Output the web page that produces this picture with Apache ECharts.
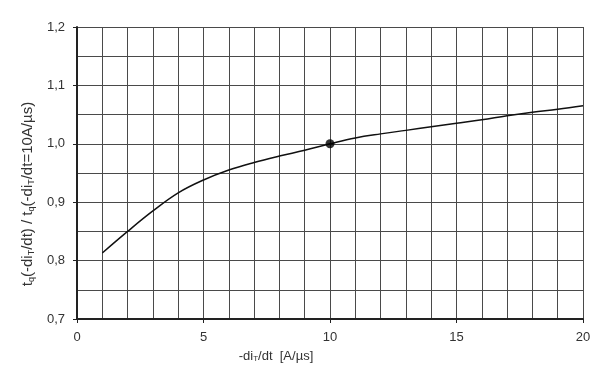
<!DOCTYPE html>
<html>
<head>
<meta charset="utf-8">
<script src="https://cdn.jsdelivr.net/npm/echarts@6/dist/echarts.min.js"></script>
<style>
  html, body { margin: 0; padding: 0; background: #fff; }
  #chart { width: 605px; height: 376px; }
</style>
</head>
<body>
<div id="chart"></div>
<script>
// -di_T/dt [A/us]
var xValues = [1, 2, 3, 4, 5, 6, 7, 8, 9, 10, 11, 12, 13, 14, 15, 16, 17, 18, 19, 20]
// tq ratio
var yValues = [0.813, 0.850, 0.885, 0.916, 0.938, 0.955, 0.968, 0.979, 0.989, 1.000,
  1.010, 1.017, 1.023, 1.029, 1.035, 1.041, 1.048, 1.054, 1.059, 1.065]
var refPoint = [10, 1.0]

var font = 'Liberation Sans, Arial, sans-serif'
var gridColor = '#4a4a4a'

var chart = echarts.init(document.getElementById('chart'))
chart.setOption({
  animation: false,
  grid: { left: 77, right: 22, top: 27, bottom: 57 },
  xAxis: {
    type: 'value',
    min: 0,
    max: 20,
    interval: 5,
    name: '-di{s|T}/dt  [A/µs]',
    nameLocation: 'middle',
    nameGap: 30,
    nameTextStyle: {
      color: '#333',
      fontSize: 13,
      fontFamily: font,
      padding: [0, 108, 0, 0],
      rich: {
        s: { fontSize: 8, fontFamily: font, color: '#333', verticalAlign: 'bottom', padding: [6, 0, 0, 0] }
      }
    },
    axisLine: { lineStyle: { color: '#222', width: 2 } },
    axisTick: { show: true, length: 4, lineStyle: { color: '#222' } },
    axisLabel: { color: '#333', fontSize: 13, fontFamily: font, margin: 12 },
    splitLine: { show: true, lineStyle: { color: gridColor, width: 1 } },
    minorTick: { show: false, splitNumber: 5 },
    minorSplitLine: { show: true, lineStyle: { color: gridColor, width: 1 } }
  },
  yAxis: {
    type: 'value',
    min: 0.7,
    max: 1.2,
    interval: 0.1,
    name: 't{s|q}(-di{s|T}/dt) / t{s|q}(-di{s|T}/dt=10A/µs)',
    nameLocation: 'middle',
    nameGap: 38,
    nameRotate: 90,
    nameTextStyle: {
      color: '#333',
      fontSize: 15,
      fontFamily: font,
      padding: [0, 42, 0, 0],
      rich: {
        s: { fontSize: 9, fontFamily: font, color: '#333', verticalAlign: 'bottom', padding: [7, 0, 0, 0] }
      }
    },
    axisLine: { show: true, lineStyle: { color: '#222', width: 2 } },
    axisTick: { show: true, length: 4, lineStyle: { color: '#222' } },
    axisLabel: {
      color: '#333',
      fontSize: 13,
      fontFamily: font,
      margin: 12,
      formatter: function (v) { return v.toFixed(1).replace('.', ',') }
    },
    splitLine: { show: true, lineStyle: { color: gridColor, width: 1 } },
    minorTick: { show: false, splitNumber: 2 },
    minorSplitLine: { show: true, lineStyle: { color: gridColor, width: 1 } }
  },
  series: [
    {
      type: 'line',
      data: xValues.map(function (x, i) { return [x, yValues[i]] }),
      smooth: 0.4,
      symbol: 'none',
      lineStyle: { color: '#111', width: 1.5 },
      z: 3
    },
    {
      type: 'scatter',
      data: [refPoint],
      symbolSize: 9,
      itemStyle: { color: '#000' },
      z: 4
    }
  ]
})
</script>
</body>
</html>
